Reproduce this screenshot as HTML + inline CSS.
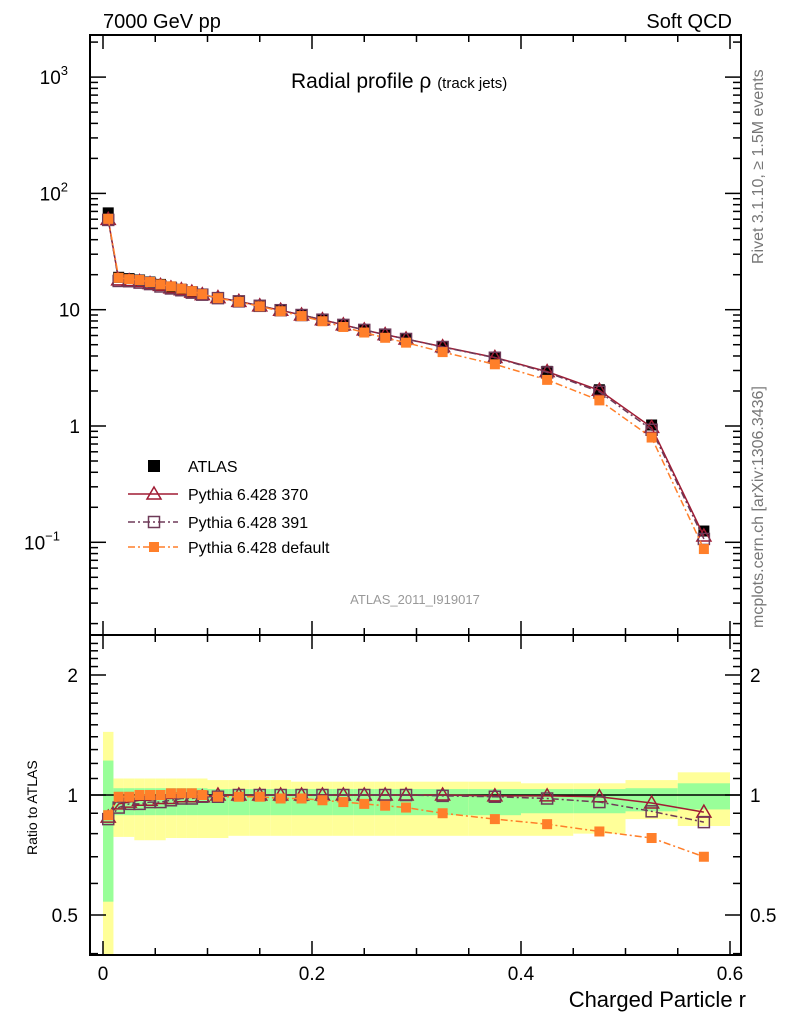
<!DOCTYPE html>
<html><head><meta charset="utf-8">
<style>
html,body{margin:0;padding:0;background:#fff;}
svg text{font-family:"Liberation Sans",sans-serif;}
</style></head>
<body>
<svg id="chart" width="786" height="1024" xmlns="http://www.w3.org/2000/svg">
<rect width="786" height="1024" fill="#fff"/>
<g id="bands"></g>
<g id="grid"></g>
<g id="series"></g>
<rect x="90" y="35" width="651" height="600" fill="none" stroke="#000" stroke-width="2"/>
<rect x="90" y="635" width="651" height="320" fill="none" stroke="#000" stroke-width="2"/>
<g id="axes"></g>
<text x="103" y="28" font-size="20">7000 GeV pp</text>
<text x="732" y="28" font-size="20" text-anchor="end">Soft QCD</text>
<text x="291" y="88" font-size="21">Radial profile ρ <tspan font-size="15">(track jets)</tspan></text>
<text x="415" y="604" font-size="13" fill="#999" text-anchor="middle">ATLAS_2011_I919017</text>
<text transform="translate(763,264) rotate(-90)" font-size="16" fill="#777">Rivet 3.1.10, ≥ 1.5M events</text>
<text transform="translate(763,628) rotate(-90)" font-size="16" fill="#777">mcplots.cern.ch [arXiv:1306.3436]</text>
<text x="746" y="1007" font-size="22" text-anchor="end">Charged Particle r</text>
<text transform="translate(37,855) rotate(-90)" font-size="14">Ratio to ATLAS</text>
<g id="legend"></g>
</svg>
<script>
const binLo = [0,0.01,0.02,0.03,0.04,0.05,0.06,0.07,0.08,0.09,0.1,0.12,0.14,0.16,0.18,0.2,0.22,0.24,0.26,0.28,0.3,0.35,0.4,0.45,0.5,0.55];
const binHi = [0.01,0.02,0.03,0.04,0.05,0.06,0.07,0.08,0.09,0.1,0.12,0.14,0.16,0.18,0.2,0.22,0.24,0.26,0.28,0.3,0.35,0.4,0.45,0.5,0.55,0.6];
const atlasVal = [68,19,18.5,18,17.3,16.5,15.7,15,14.3,13.6,12.7,11.8,10.8,9.9,9.0,8.2,7.4,6.7,6.1,5.6,4.8,3.9,2.95,2.05,1.02,0.125];
const atlasErr = [3,0.8,0.7,0.7,0.6,0.6,0.6,0.5,0.5,0.5,0.4,0.4,0.4,0.3,0.3,0.3,0.3,0.2,0.2,0.2,0.2,0.15,0.1,0.1,0.05,0.01];
const r370 = [0.88,0.95,0.96,0.97,0.97,0.98,0.98,0.99,0.99,0.99,1,1,1,1,1,1,1,1,1,1,1,0.995,0.995,0.99,0.955,0.906];
const r391 = [0.87,0.93,0.95,0.95,0.96,0.96,0.97,0.98,0.98,0.99,0.99,1,1,1,1,1,1,1,1,1,0.995,0.99,0.98,0.96,0.91,0.855];
const rDef = [0.89,0.99,0.99,1,1,1,1.01,1.01,1.01,1.0,0.99,0.99,0.99,0.98,0.98,0.97,0.96,0.95,0.94,0.93,0.9,0.87,0.845,0.81,0.78,0.70];
const yelUp = [1.44,1.1,1.1,1.1,1.1,1.1,1.1,1.1,1.1,1.1,1.09,1.09,1.09,1.09,1.08,1.08,1.08,1.08,1.08,1.08,1.08,1.08,1.07,1.07,1.09,1.14];
const yelDn = [0.3,0.785,0.785,0.77,0.77,0.77,0.78,0.78,0.78,0.78,0.78,0.79,0.79,0.79,0.79,0.79,0.79,0.79,0.79,0.79,0.79,0.79,0.79,0.8,0.87,0.836];
const grnUp = [1.22,1.04,1.04,1.04,1.04,1.04,1.04,1.04,1.04,1.04,1.035,1.035,1.035,1.035,1.035,1.035,1.035,1.035,1.035,1.035,1.035,1.035,1.035,1.035,1.04,1.07];
const grnDn = [0.54,0.89,0.89,0.89,0.89,0.89,0.89,0.89,0.89,0.89,0.89,0.89,0.89,0.89,0.89,0.89,0.89,0.89,0.89,0.89,0.89,0.89,0.9,0.9,0.91,0.92];
const xTicks = [0,0.2,0.4,0.6];
const xTickLabels = ["0","0.2","0.4","0.6"];
const ratioTicks = [0.5,1,2];
const ratioTickLabels = ["0.5","1","2"];

const NS="http://www.w3.org/2000/svg";
const X0=90,X1=741,MT=35,MB=635,RT=635,RB=955;
const xs = r => 103 + r*1045;
const ym = v => 426 - Math.log10(v)*116.3;
const yr = v => Math.min(RB, Math.max(RT, 795 - Math.log2(v)*120));
function mk(parent,tag,attrs){const e=document.createElementNS(NS,tag);for(const k in attrs)e.setAttribute(k,attrs[k]);parent.appendChild(e);return e;}
const bands=document.getElementById('bands'),axes=document.getElementById('axes'),ser=document.getElementById('series'),leg=document.getElementById('legend');

for(let i=0;i<binLo.length;i++){
  const x=xs(binLo[i]),w=xs(binHi[i])-x;
  const y1=mk(bands,'rect',{x:x,y:yr(yelUp[i]),width:w,height:yr(yelDn[i])-yr(yelUp[i]),fill:'#ffff99'});
  
  
  const g1=mk(bands,'rect',{x:x,y:yr(grnUp[i]),width:w,height:yr(grnDn[i])-yr(grnUp[i]),fill:'#99ff99'});
  
  
}
const one=mk(bands,'line',{x1:X0,x2:X1,y1:yr(1),y2:yr(1),stroke:'#000','stroke-width':1.5});



for(let r=0;r<=0.6001;r+=0.05){
  const major=Math.abs(r*10-Math.round(r*10))<1e-6 && Math.round(r*10)%2===0;
  const L=major?14:7;
  for(const [yb,dir] of [[MB,-1],[RB,-1],[MT,1],[RT,1]]){
    mk(axes,'line',{x1:xs(r),x2:xs(r),y1:yb,y2:yb+dir*L,stroke:'#000','stroke-width':1.5});
  }
}
xTicks.forEach((t,i)=>{const e=mk(axes,'text',{x:xs(t),y:980,'font-size':19,'text-anchor':'middle'});e.textContent=xTickLabels[i];

});
for(let d=-2;d<=3;d++){for(let m=1;m<10;m++){const v=m*Math.pow(10,d);const y=ym(v);if(y<MT||y>MB)continue;const L=m===1?16:8;
 mk(axes,'line',{x1:X0,x2:X0+L,y1:y,y2:y,stroke:'#000','stroke-width':1.5});mk(axes,'line',{x1:X1,x2:X1-L,y1:y,y2:y,stroke:'#000','stroke-width':1.5});}}
const mlab=[[3,'10','3'],[2,'10','2'],[1,'10',''],[0,'1',''],[-1,'10','−1']];
mlab.forEach(([d,b,s])=>{const e=mk(axes,'text',{x:s?68:80,y:ym(Math.pow(10,d))+7,'font-size':19,'text-anchor':'end'});


e.textContent=b; if(s){const t=mk(e,'tspan',{dy:-9,'font-size':13});t.textContent=s;e.setAttribute('x',s.length>1?60:68);}
});
for(let v=0.3;v<=2.41;v+=0.1){const y=yr(v);if(y<=RT||y>=RB)continue;const major=[0.5,1,2].some(q=>Math.abs(q-v)<1e-6);const L=major?16:8;
 mk(axes,'line',{x1:X0,x2:X0+L,y1:y,y2:y,stroke:'#000','stroke-width':1.5});mk(axes,'line',{x1:X1,x2:X1-L,y1:y,y2:y,stroke:'#000','stroke-width':1.5});}
ratioTicks.forEach((t,i)=>{for(const [x,a] of [[78,'end'],[750,'start']]){const e=mk(axes,'text',{x:x,y:yr(t)+7,'font-size':19,'text-anchor':a});e.textContent=ratioTickLabels[i];

}});

const styles=[
 {name:'pythia-370',r:r370,color:'#a01c34',dash:'',mark:'tri'},
 {name:'pythia-391',r:r391,color:'#6e3a58',dash:'7,3,2,3',mark:'sq'},
 {name:'pythia-default',r:rDef,color:'#ff7f2a',dash:'7,3,2,3',mark:'fsq'}];
function marker(g,m,x,y,c){
 if(m==='tri')return mk(g,'path',{d:`M${x},${y-7}L${x+7},${y+5}L${x-7},${y+5}Z`,fill:'none',stroke:c,'stroke-width':1.5});
 if(m==='sq')return mk(g,'rect',{x:x-5.5,y:y-5.5,width:11,height:11,fill:'none',stroke:c,'stroke-width':1.5});
 return mk(g,'rect',{x:x-5,y:y-5,width:10,height:10,fill:c});
}
const mids=binLo.map((l,i)=>(l+binHi[i])/2);
const ag=mk(ser,'g',{});


atlasVal.forEach((v,i)=>{const x=xs(mids[i]);mk(ag,'line',{x1:x,x2:x,y1:ym(v+atlasErr[i]),y2:ym(v-atlasErr[i]),stroke:'#000','stroke-width':1.5});
 mk(ag,'rect',{x:x-5.5,y:ym(v)-5.5,width:11,height:11,fill:'#000'});});
styles.forEach(s=>{
 const g=mk(ser,'g',{});
 
 
 const pm=mids.map((m,i)=>`${xs(m)},${ym(atlasVal[i]*s.r[i])}`).join(' ');
 const pr=mids.map((m,i)=>`${xs(m)},${yr(s.r[i])}`).join(' ');
 mk(g,'polyline',{points:pm,fill:'none',stroke:s.color,'stroke-width':1.5,'stroke-dasharray':s.dash});
 mk(g,'polyline',{points:pr,fill:'none',stroke:s.color,'stroke-width':1.5,'stroke-dasharray':s.dash});
 mids.forEach((m,i)=>{marker(g,s.mark,xs(m),ym(atlasVal[i]*s.r[i]),s.color);marker(g,s.mark,xs(m),yr(s.r[i]),s.color);});
});
const lx=154,ly=[466,494,522,547];
mk(leg,'rect',{x:lx-6,y:ly[0]-6,width:12,height:12,fill:'#000'});
const t0=mk(leg,'text',{x:188,y:ly[0]+6,'font-size':16});t0.textContent='ATLAS';
const labels=['Pythia 6.428 370','Pythia 6.428 391','Pythia 6.428 default'];
styles.forEach((s,i)=>{const y=ly[i+1];mk(leg,'line',{x1:128,x2:178,y1:y,y2:y,stroke:s.color,'stroke-width':1.5,'stroke-dasharray':s.dash});
 marker(leg,s.mark,lx,y,s.color);const t=mk(leg,'text',{x:188,y:y+6,'font-size':16});t.textContent=labels[i];
 
 });
</script>
</body></html>
